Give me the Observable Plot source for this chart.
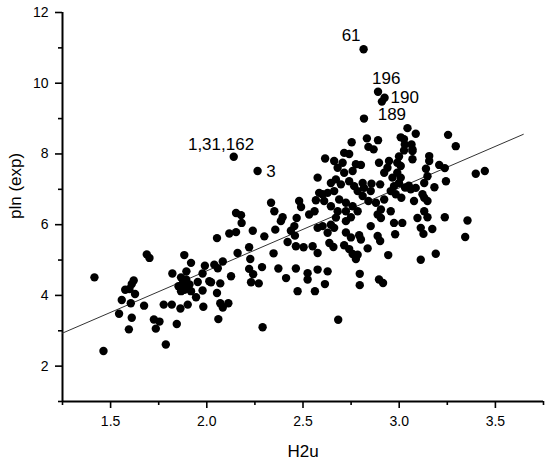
<!DOCTYPE html>
<html>
<head>
<meta charset="utf-8">
<script src="https://cdn.jsdelivr.net/npm/d3@7"></script>
<script src="https://cdn.jsdelivr.net/npm/@observablehq/plot@0.6"></script>
<style>
  html, body { margin: 0; padding: 0; background: white; }
</style>
</head>
<body>
<div id="chart"></div>
<script>
// Tick values
const xTicks = [1.5, 2.0, 2.5, 3.0, 3.5];
const xMinorTicks = [1.25, 1.75, 2.25, 2.75, 3.25, 3.75];
const yTicks = [2, 4, 6, 8, 10, 12];
const yMinorTicks = [1, 3, 5, 7, 9, 11];

// Observations: [H2u, pln (exp)]
const points = [
  [1.416,4.51],[1.463,2.43],[1.688,5.16],[1.702,5.06],[1.62,4.42],[1.61,4.32],[1.576,4.16],[1.598,4.18],
  [1.627,4.04],[1.558,3.87],[1.605,3.78],[1.544,3.48],[1.61,3.37],[1.595,3.04],[1.674,3.71],[1.725,3.32],
  [1.754,3.26],[1.735,3.06],[1.787,2.61],[1.776,3.74],[1.818,3.74],[1.844,3.19],[1.821,4.62],[1.863,3.63],
  [1.901,3.74],[1.883,5.14],[1.918,4.92],[1.894,4.68],[1.866,4.51],
  [1.853,4.26],[1.876,4.35],[1.893,4.45],[1.91,4.31],[1.884,4.16],[1.918,4.12],[1.866,4.12],[1.88,4.25],[1.9,4.2],
  [1.944,3.95],[1.978,4.14],[1.953,4.38],[1.978,4.62],[1.99,4.84],[1.982,3.68],[2.013,4.4],
  [2.039,4.87],[2.053,5.62],[2.053,4.07],[2.022,4.37],[2.07,4.34],[2.057,4.77],[2.06,3.33],[2.083,4.96],
  [2.07,3.78],[2.083,3.66],[2.112,3.78],[2.126,4.54],[2.117,5.75],[2.152,5.79],[2.16,5.2],[2.22,5.36],
  [2.226,5.03],[2.22,4.75],[2.241,4.6],[2.23,4.37],[2.27,4.34],[2.287,4.8],[2.29,3.1],[2.299,5.67],[2.347,5.19],
  [2.334,6.62],[2.351,6.38],[2.48,6.67],[2.49,6.5],[2.567,6.69],[2.584,6.9],[2.532,6.29],[2.56,6.38],
  [2.467,6.19],[2.394,6.21],[2.385,6.1],[2.152,6.33],[2.178,6.27],[2.181,6.05],[2.239,5.83],[2.356,5.86],
  [2.437,5.83],[2.458,5.69],[2.42,5.51],[2.463,5.39],[2.503,5.36],[2.55,5.39],[2.576,5.91],[2.576,5.2],
  [2.372,4.76],[2.412,4.49],[2.463,4.76],[2.472,4.12],[2.524,4.45],[2.524,4.63],[2.576,4.73],[2.562,4.12],
  [2.832,8.44],[2.89,8.39],[3.043,8.73],[3.086,8.57],[2.753,8.33],[3.008,8.47],[3.029,8.27],[3.064,8.27],
  [3.069,8.08],[3.025,8.1],[2.999,7.93],[2.99,7.75],[2.947,7.8],[2.939,7.61],[2.895,7.75],[2.84,8.2],
  [2.714,8.03],[2.74,8.0],[2.615,7.87],[2.662,7.8],[2.706,7.75],[2.775,7.71],[2.801,7.69],[2.758,7.52],
  [2.714,7.47],[2.68,7.61],[2.576,7.33],[2.645,7.18],[2.671,7.28],[2.697,7.14],[2.74,7.23],[2.766,7.09],
  [2.81,7.18],[2.856,7.16],[2.901,7.14],[2.922,7.47],[2.965,7.33],[2.99,7.47],[2.999,7.18],[2.973,7.09],
  [2.956,6.95],[2.982,6.86],[3.011,6.76],[3.043,7.06],[3.086,7.04],[3.13,7.18],[3.147,7.37],[3.156,7.8],
  [3.121,6.86],[2.628,6.9],[2.662,6.95],[2.688,6.71],[2.723,6.62],[2.61,6.67],[2.602,6.86],
  [2.784,6.95],[2.817,7.04],[2.852,6.95],[2.81,6.81],[2.84,6.67],[2.879,6.62],[2.922,6.71],[2.905,6.43],
  [2.888,6.29],[2.956,6.38],[2.758,6.52],[2.784,6.38],[2.723,6.38],[2.68,6.38],[2.645,6.52],
  [2.455,5.96],[2.723,6.1],[2.749,6.21],[2.905,6.19],[2.973,6.05],[3.016,6.05],[3.095,6.19],[3.13,6.38],
  [3.147,6.67],[3.077,6.67],[3.112,5.91],[2.645,6.0],[2.852,5.96],[2.867,8.13],[3.069,8.13],[3.025,8.42],
  [3.008,7.66],[3.008,7.33],[3.05,7.1],
  [2.637,5.48],[2.628,5.77],[2.662,5.91],[2.723,5.78],[2.749,5.64],[2.792,5.7],[2.801,5.58],[2.714,5.42],
  [2.74,5.31],[2.758,5.17],[2.775,5.03],[2.784,5.15],[2.836,5.33],[2.888,5.68],[2.901,5.54],[2.943,5.14],
  [2.979,5.73],[3.126,5.74],[3.112,5.01],[2.628,4.68],[2.614,4.32],[2.795,4.61],[2.795,4.29],[2.895,4.45],
  [2.916,4.35],[2.683,3.31],[2.658,5.37],[2.602,5.96],[2.671,6.2],
  [3.254,8.54],[3.294,8.22],[3.069,7.85],[3.156,7.94],[3.139,7.58],[3.208,7.69],[3.237,7.6],[3.398,7.44],
  [3.445,7.52],[3.243,7.23],[3.183,7.06],[3.13,6.76],[3.147,6.21],[3.237,6.21],[3.355,6.12],[3.172,5.88],
  [3.343,5.65],[3.19,5.18],[3.06,7.0],[3.03,7.05],
  [2.815,10.96],[2.89,9.76],[2.924,9.59],[2.91,9.48],[2.817,9.0],[2.14,7.92],[2.264,7.52]
];

// Linear fit: pln = intercept + slope * H2u, drawn over this H2u range
const fitIntercept = 0.0;
const fitSlope = 2.347;
const fitRange = [1.25, 3.645];

// Point annotations (label anchor in data units)
const labelTexts = ["61", "196", "190", "189", "1,31,162", "3"];
const labelX = [2.750, 2.933, 3.029, 2.962, 2.074, 2.334];
const labelY = [11.20, 9.97, 9.43, 8.96, 8.11, 7.35];

const xTitle = "H2u";
const yTitle = "pln (exp)";

const labels = labelTexts.map((t, i) => ({text: t, x: labelX[i], y: labelY[i]}));
const fitLine = fitRange.map(x => ({x, y: fitIntercept + fitSlope * x}));

const chart = Plot.plot({
  width: 550,
  height: 462,
  marginLeft: 62,
  marginRight: 7,
  marginTop: 12,
  marginBottom: 61,
  x: {domain: [1.25, 3.75]},
  y: {domain: [1, 12]},
  style: {fontFamily: "Arial, 'Liberation Sans', sans-serif", fontSize: "14px", color: "black", background: "white"},
  marks: [
    Plot.axisX(xMinorTicks, {tickSize: 4, tickFormat: () => "", strokeWidth: 1.6, label: null}),
    Plot.axisX(xTicks, {tickSize: 7, tickPadding: 8, tickFormat: d3.format(".1f"), strokeWidth: 1.6, fontSize: 14, label: null}),
    Plot.axisY(yMinorTicks, {tickSize: 4, tickFormat: () => "", strokeWidth: 1.6, label: null}),
    Plot.axisY(yTicks, {tickSize: 7, tickPadding: 7, strokeWidth: 1.6, fontSize: 14, label: null}),
    Plot.ruleX([1.25], {strokeWidth: 2, stroke: "black"}),
    Plot.ruleY([1], {strokeWidth: 2, stroke: "black"}),
    Plot.line(fitLine, {x: "x", y: "y", stroke: "#333", strokeWidth: 1}),
    Plot.dot(points, {x: d => d[0], y: d => d[1], r: 4.2, fill: "black", stroke: "none"}),
    Plot.text(labels, {x: "x", y: "y", text: "text", lineAnchor: "bottom", textAnchor: "middle", fontSize: 17, fill: "black"}),
    Plot.text([xTitle], {text: d => d, frameAnchor: "bottom", dy: 55, lineAnchor: "bottom", fontSize: 17, fill: "black"}),
    Plot.text([yTitle], {text: d => d, frameAnchor: "left", dx: -47, dy: 12, rotate: -90, fontSize: 17, fill: "black"})
  ]
});

document.getElementById("chart").appendChild(chart);
</script>
</body>
</html>
